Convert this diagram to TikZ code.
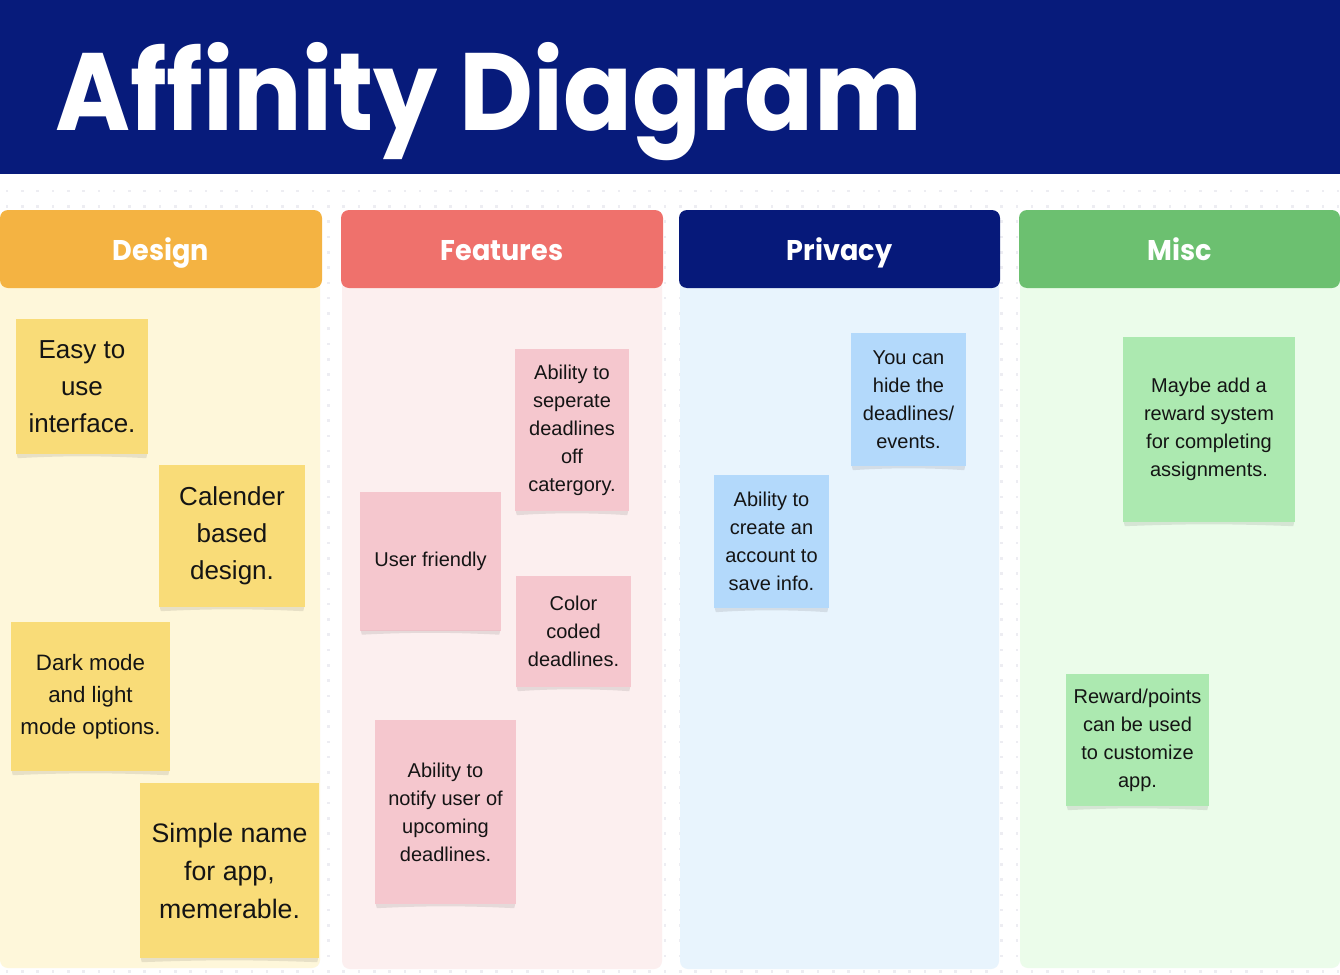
\documentclass[tikz,border=0pt]{standalone}
\usepackage{fontspec}
\setmainfont{Liberation Sans}
\newfontfamily\headfont{Poppins}
\usetikzlibrary{calc}

\definecolor{navy}{HTML}{071B7B}
\definecolor{designc}{HTML}{F4B342}
\definecolor{designbg}{HTML}{FEF7DA}
\definecolor{featc}{HTML}{EF716C}
\definecolor{featbg}{HTML}{FCEFEF}
\definecolor{privc}{HTML}{06197A}
\definecolor{privbg}{HTML}{E8F4FD}
\definecolor{miscc}{HTML}{6CC070}
\definecolor{miscbg}{HTML}{EBFCEA}
\definecolor{noteyellow}{HTML}{F9DC78}
\definecolor{notepink}{HTML}{F5C7CE}
\definecolor{noteblue}{HTML}{B3D9FB}
\definecolor{notegreen}{HTML}{ACE9B0}
\definecolor{dotc}{HTML}{EDEDF2}
\definecolor{inkc}{HTML}{141414}

\tikzset{
  header/.style={rounded corners=8, inner sep=0, minimum height=78},
  headlabel/.style={anchor=base, inner sep=0, text=white, xscale=0.95,
    font=\headfont\bfseries\fontsize{28.5}{29}\selectfont},
  colbody/.style={rounded corners=8},
  note/.style={inner sep=0, align=center, text=inkc},
  big/.style={font=\fontsize{26}{37}\selectfont},
  mid/.style={font=\fontsize{22.3}{32}\selectfont},
  small/.style={font=\fontsize{20}{28}\selectfont},
}
% soft curled shadow under a sticky note
\newcommand\noteshadow[1]{%
  \fill[black,opacity=0.09] ($(#1.south west)+(1,0)$) -- ($(#1.south east)+(-1,0)$)
    -- ($(#1.south east)+(-2,4)$)
    .. controls ($(#1.south)+(20,1.5)$) and ($(#1.south)+(-20,1.5)$) ..
    ($(#1.south west)+(2,4)$) -- cycle;}

\begin{document}
\begin{tikzpicture}[x=1pt,y=-1pt]
\useasboundingbox (0,0) rectangle (1340,974);
\fill[white] (0,0) rectangle (1340,974);

% dotted canvas
\foreach \i in {0,...,87}
  \foreach \j in {0,...,51}
    \fill[dotc] ({5.7+15.3*\i},{189.7+15.3*\j}) rectangle ++(2.6,2.6);

% title bar
\fill[navy] (0,0) rectangle (1340,174);
\node[anchor=base west, inner sep=0, text=white, xscale=0.925,
  font=\headfont\bfseries\fontsize{110}{110}\selectfont] (title) at (55,130) {Affinity Diagram};

% column bodies
\fill[designbg, colbody] (0,270) rectangle (320,968);
\fill[featbg, colbody] (342,270) rectangle (662,969);
\fill[privbg, colbody] (680,270) rectangle (999,969);
\fill[miscbg, colbody] (1020,270) rectangle (1340,968);

% column headers
\node[header, fill=designc, minimum width=322] (hdesign) at (161,249) {};
\node[header, fill=featc, minimum width=322] (hfeat) at (502,249) {};
\node[header, fill=privc, minimum width=321] (hpriv) at (839.5,249) {};
\node[header, fill=miscc, minimum width=321] (hmisc) at (1179.5,249) {};
\node[headlabel] (ldesign) at (161,260) {Design};
\node[headlabel] (lfeat) at (502,260) {Features};
\node[headlabel] (lpriv) at (839.5,260) {Privacy};
\node[headlabel] (lmisc) at (1179.5,260) {Misc};

% Design notes
\node[note, big, fill=noteyellow, minimum width=132, minimum height=135] (d1) at (82,386.5) {Easy to\\use\\interface.};
\node[note, big, fill=noteyellow, minimum width=146, minimum height=142] (d2) at (232,536) {Calender\\based\\design.};
\node[note, mid, fill=noteyellow, minimum width=159, minimum height=149] (d3) at (90.5,696.5) {Dark mode\\and light\\mode options.};
\node[note, font=\fontsize{26.7}{38}\selectfont, fill=noteyellow, minimum width=179, minimum height=175] (d4) at (229.5,870.5) {Simple name\\for app,\\memerable.};

% Features notes
\node[note, small, fill=notepink, minimum width=114, minimum height=162] (f1) at (572,430) {Ability to\\seperate\\deadlines\\off\\catergory.};
\node[note, small, fill=notepink, minimum width=141, minimum height=139] (f2) at (430.5,561) {User friendly};
\node[note, small, fill=notepink, minimum width=115, minimum height=111] (f3) at (573.5,631.5) {Color\\coded\\deadlines.};
\node[note, small, fill=notepink, minimum width=141, minimum height=184] (f4) at (445.5,812) {Ability to\\notify user of\\upcoming\\deadlines.};

% Privacy notes
\node[note, small, fill=noteblue, minimum width=115, minimum height=133] (p1) at (908.5,399.5) {You can\\hide the\\deadlines/\\events.};
\node[note, small, fill=noteblue, minimum width=115, minimum height=133] (p2) at (771.5,541.5) {Ability to\\create an\\account to\\save info.};

% Misc notes
\node[note, small, fill=notegreen, minimum width=172, minimum height=185] (m1) at (1209,429.5) {Maybe add a\\reward system\\for completing\\assignments.};
\node[note, small, fill=notegreen, minimum width=143, minimum height=132] (m2) at (1137.5,740) {Reward/points\\can be used\\to customize\\app.};

\foreach \n in {d1,d2,d3,d4,f1,f2,f3,f4,p1,p2,m1,m2} {\noteshadow{\n}}
\end{tikzpicture}
\end{document}
